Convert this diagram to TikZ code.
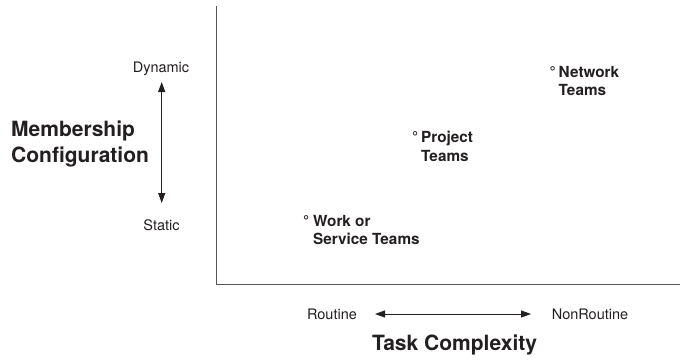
\documentclass[tikz,border=0pt]{standalone}
\usepackage{fontspec}
\setmainfont{TeX Gyre Heros}
\usetikzlibrary{arrows.meta}
\definecolor{ink}{HTML}{231F20}
\definecolor{axisgray}{HTML}{555555}
\begin{document}
\begin{tikzpicture}[x=1pt,y=-1pt,
  lbl/.style={inner sep=0pt,text=ink,font=\fontsize{14.5}{17}\selectfont},
  title/.style={inner sep=0pt,text=ink,font=\fontsize{21}{26}\selectfont\bfseries,align=left},
  team/.style={inner sep=0pt,text=ink,anchor=north west,align=left,font=\fontsize{15.3}{18.5}\selectfont\bfseries},
  axisline/.style={draw=axisgray,line width=1.3pt},
  dblarrow/.style={draw=ink,line width=1pt,{Triangle[length=10pt,width=7pt]}-{Triangle[length=10pt,width=7pt]}}]
\useasboundingbox (0,0) rectangle (680,359);
% axes
\coordinate (ytop) at (216.5,6);
\coordinate (origin) at (216.5,284.5);
\coordinate (xend) at (680,284.5);
\draw[axisline] (ytop) -- (origin) -- (xend);
% vertical axis labels
\node[lbl] (dyn) at (161,68.5) {Dynamic};
\node[lbl] (sta) at (161.5,225) {Static};
\coordinate (vtop) at (161.7,82);
\coordinate (vbot) at (161.7,203);
\draw[dblarrow] (vtop) -- (vbot);
\node[title,anchor=west] (mc) at (11,144) {Membership\\Configuration};
% horizontal axis labels
\node[lbl] (rou) at (332,314) {Routine};
\node[lbl] (nonr) at (590,314) {NonRoutine};
\coordinate (hl) at (375,314);
\coordinate (hr) at (531,314);
\draw[dblarrow] (hl) -- (hr);
\node[title] (tc) at (454.5,344.5) {Task Complexity};
% teams
\node[team] (net) at (558.5,66) {\llap{°\hspace{3pt}}Network\\Teams};
\node[team] (proj) at (421,131) {\llap{°\hspace{3pt}}Project\\Teams};
\node[team] (work) at (313,215) {\llap{°\hspace{4pt}}Work or\\Service Teams};
\end{tikzpicture}
\end{document}
